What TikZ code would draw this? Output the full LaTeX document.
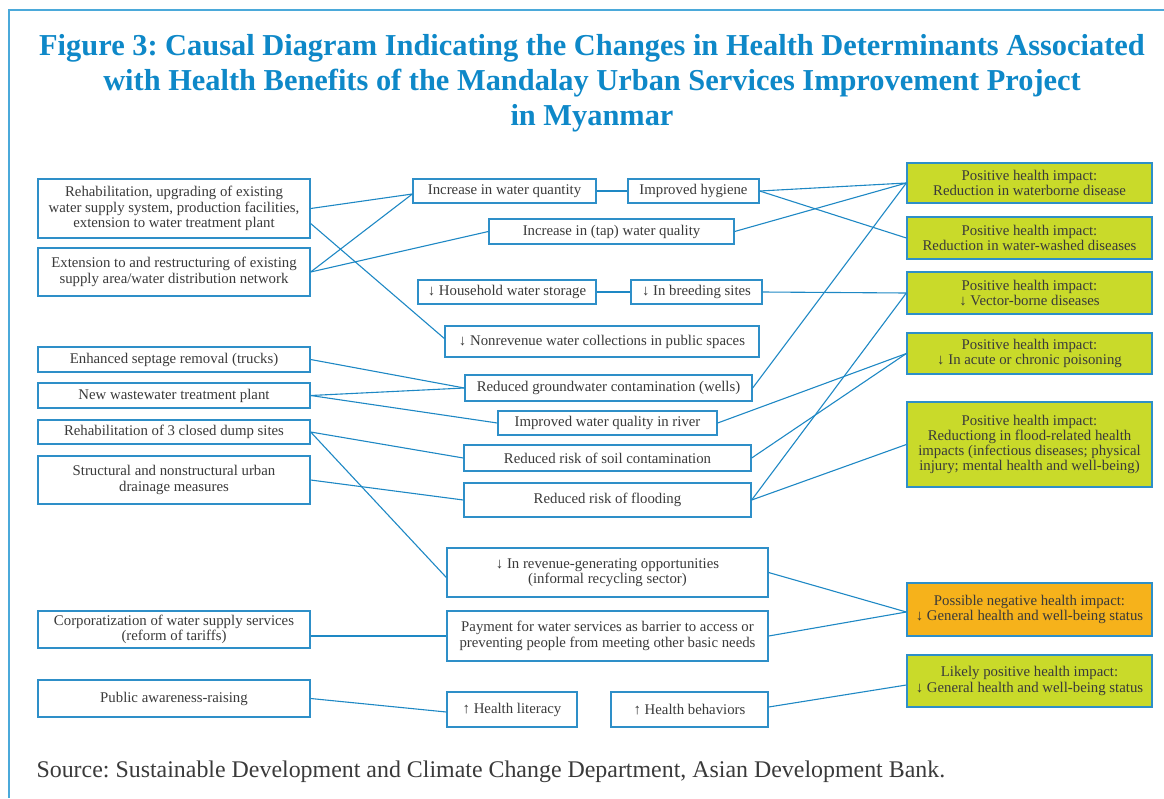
\documentclass[tikz,border=0pt]{standalone}
\usepackage{fontspec}
\setmainfont{Liberation Serif}
\usetikzlibrary{calc}
\definecolor{lineblue}{HTML}{1E88C4}
\definecolor{boxblue}{HTML}{2E8FC8}
\definecolor{frameblue}{HTML}{4BA9DA}
\definecolor{titleblue}{HTML}{0E88C8}
\definecolor{greenfill}{HTML}{C9DA2A}
\definecolor{orangefill}{HTML}{F6B21B}
\definecolor{txt}{HTML}{3A3A3A}
\begin{document}
\frenchspacing
\begin{tikzpicture}[x=1pt,y=-1pt,
  box/.style={draw=boxblue, line width=1.3pt, fill=white, inner sep=0pt, align=center, text=txt, font=\fontsize{14.8}{15.3}\selectfont},
  lbox/.style={box, minimum width=272pt},
  rbox/.style={box, minimum width=245pt, fill=greenfill},
  obox/.style={rbox, fill=orangefill},
  link/.style={draw=lineblue, line width=1.1pt}]
\useasboundingbox (0,0) rectangle (1164,798);
\draw[frameblue, line width=2pt] (9,798) -- (9,10) -- (1164,10);

\node[text=titleblue, align=center, font=\fontsize{30.4}{35}\selectfont\bfseries] (title) at (592,83)
  {Figure 3: Causal Diagram Indicating the Changes in Health Determinants Associated\\
   with Health Benefits of the Mandalay Urban Services Improvement Project\\
   in Myanmar};

% left column
\node[lbox, minimum height=59pt] (L1) at (174,208.5) {Rehabilitation, upgrading of existing\\water supply system, production facilities,\\extension to water treatment plant};
\node[lbox, minimum height=48pt] (L2) at (174,272) {Extension to and restructuring of existing\\supply area/water distribution network};
\node[lbox, minimum height=25pt] (L3) at (174,359.5) {Enhanced septage removal (trucks)};
\node[lbox, minimum height=25pt] (L4) at (174,395.5) {New wastewater treatment plant};
\node[lbox, minimum height=24pt] (L5) at (174,432) {Rehabilitation of 3 closed dump sites};
\node[lbox, minimum height=48pt] (L6) at (174,480) {Structural and nonstructural urban\\drainage measures};
\node[lbox, minimum height=37pt] (L7) at (174,629.5) {Corporatization of water supply services\\(reform of tariffs)};
\node[lbox, minimum height=37pt] (L8) at (174,698.5) {Public awareness-raising};

% middle
\node[box, minimum width=183pt, minimum height=24pt] (M1) at (504.5,191) {Increase in water quantity};
\node[box, minimum width=131pt, minimum height=24pt] (M2) at (693.5,191) {Improved hygiene};
\node[box, minimum width=245pt, minimum height=25pt] (M3) at (611.5,231.5) {Increase in (tap) water quality};
\node[box, minimum width=178pt, minimum height=24pt] (M4) at (507,292) {↓ Household water storage};
\node[box, minimum width=131pt, minimum height=24pt] (M5) at (696.5,292) {↓ In breeding sites};
\node[box, minimum width=314pt, minimum height=31pt] (M6) at (602,341.5) {↓ Nonrevenue water collections in public spaces};
\node[box, minimum width=287pt, minimum height=26pt] (M7) at (608.5,388) {Reduced groundwater contamination (wells)};
\node[box, minimum width=219pt, minimum height=24pt] (M8) at (607.5,423) {Improved water quality in river};
\node[box, minimum width=287pt, minimum height=26pt] (M9) at (607.5,458) {Reduced risk of soil contamination};
\node[box, minimum width=287pt, minimum height=34pt] (M10) at (607.5,500) {Reduced risk of flooding};
\node[box, minimum width=321pt, minimum height=49pt] (M11) at (607.5,572.5) {↓ In revenue-generating opportunities\\(informal recycling sector)};
\node[box, minimum width=321pt, minimum height=50pt] (M12) at (607.5,636) {Payment for water services as barrier to access or\\preventing people from meeting other basic needs};
\node[box, minimum width=130pt, minimum height=35pt] (M13) at (512,709.5) {↑ Health literacy};
\node[box, minimum width=157pt, minimum height=35pt] (M14) at (689.5,709.5) {↑ Health behaviors};

% right
\node[rbox, minimum height=40pt] (R1) at (1029.5,183) {Positive health impact:\\Reduction in waterborne disease};
\node[rbox, minimum height=42pt] (R2) at (1029.5,238) {Positive health impact:\\Reduction in water-washed diseases};
\node[rbox, minimum height=42pt] (R3) at (1029.5,293) {Positive health impact:\\↓ Vector-borne diseases};
\node[rbox, minimum height=41pt] (R4) at (1029.5,353.5) {Positive health impact:\\↓ In acute or chronic poisoning};
\node[rbox, minimum height=85pt] (R5) at (1029.5,444.5) {Positive health impact:\\Reductiong in flood-related health\\impacts (infectious diseases; physical\\injury; mental health and well-being)};
\node[obox, minimum height=53pt] (R6) at (1029.5,609.5) {Possible negative health impact:\\↓ General health and well-being status};
\node[rbox, minimum height=52pt] (R7) at (1029.5,681) {Likely positive health impact:\\↓ General health and well-being status};

\node[anchor=west, text=txt, font=\fontsize{23.9}{27}\selectfont] (src) at (33,772) {Source: Sustainable Development and Climate Change Department, Asian Development Bank.};

% connectors
\draw[link] (L1.east) -- ($(M1.west)+(0,3)$);
\draw[link] (L2.east) -- ($(M1.west)+(0,3)$);
\draw[link] (L2.east) -- (M3.west);
\draw[link] ($(L1.east)+(0,15)$) -- ($(M6.west)+(0,-3)$);
\draw[link] (M1.east) -- (M2.west);
\draw[link] ($(M1.south west)+(43,0)$) -- ($(M1.south west)+(43,0)$ |- M4.north);
\draw[link] (M4.east) -- (M5.west);
\draw[link] (M2.east) -- (R1.west);
\draw[link] (M2.east) -- (R2.west);
\draw[link] (M3.east) -- (R1.west);
\draw[link] (M5.east) -- (R3.west);
\draw[link] (M7.east) -- (R1.west);
\draw[link] (M8.east) -- (R4.west);
\draw[link] (M9.east) -- (R4.west);
\draw[link] (M10.east) -- (R3.west);
\draw[link] (M10.east) -- (R5.west);
\draw[link] (L3.east) -- (M7.west);
\draw[link] (L4.east) -- (M7.west);
\draw[link] (L4.east) -- (M8.west);
\draw[link] (L5.east) -- (M9.west);
\draw[link] (L5.east) -- ($(M11.west)+(0,5)$);
\draw[link] (L6.east) -- (M10.west);
\draw[link] (M12.west -| L7.east) -- (M12.west);
\draw[link] (L8.east) -- ($(M13.west)+(0,2.5)$);
\draw[link] (M11.east) -- ($(R6.west)+(0,2.5)$);
\draw[link] (M12.east) -- ($(R6.west)+(0,2.5)$);
\draw[link] ($(M14.east)+(0,-2.5)$) -- ($(R7.west)+(0,4)$);
\end{tikzpicture}
\end{document}
